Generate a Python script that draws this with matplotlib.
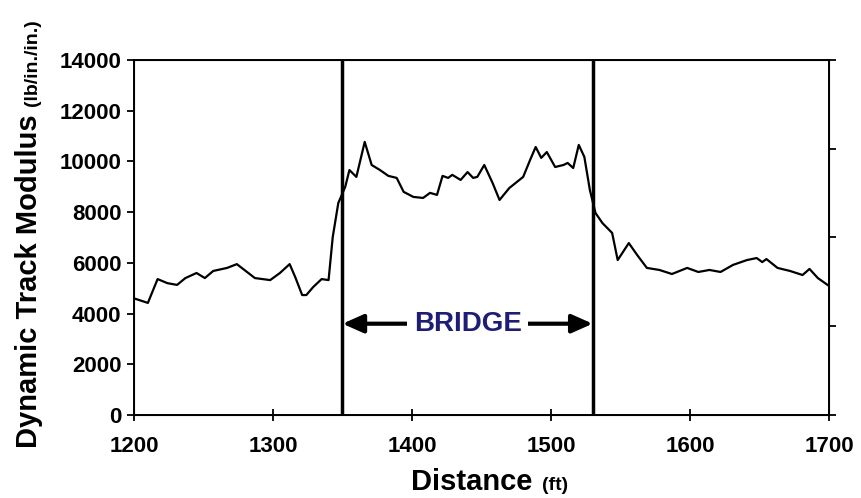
import matplotlib
matplotlib.use('Agg')
import matplotlib.pyplot as plt

plt.rcParams['font.family'] = ['Liberation Sans', 'DejaVu Sans']
plt.rcParams['font.weight'] = 'bold'

# distance (ft) and dynamic track modulus (lb/in./in.)
distance = [1200, 1210, 1217, 1224, 1231, 1237, 1245, 1251, 1257, 1267, 1274,
            1287, 1298, 1305, 1312, 1316, 1321, 1324, 1329, 1335, 1340, 1343,
            1347, 1352, 1355, 1360, 1366, 1371, 1377, 1383, 1389, 1394, 1401,
            1408, 1413, 1418, 1422, 1426, 1429, 1435, 1440, 1444, 1447, 1452,
            1458, 1463, 1470, 1480, 1485, 1489, 1493, 1497, 1503, 1509, 1512,
            1516, 1520, 1524, 1528, 1532, 1537, 1544, 1548, 1556, 1562, 1569,
            1578, 1587, 1598, 1606, 1614, 1622, 1631, 1641, 1648, 1652, 1655,
            1663, 1672, 1681, 1686, 1692, 1700]
modulus = [4600, 4420, 5360, 5200, 5130, 5400, 5600, 5400, 5680, 5800, 5950,
           5400, 5320, 5600, 5950, 5440, 4730, 4730, 5050, 5360, 5320, 7020,
           8360, 9000, 9660, 9390, 10770, 9860, 9660, 9430, 9350, 8800, 8600,
           8560, 8760, 8680, 9430, 9350, 9470, 9270, 9580, 9350, 9390, 9860,
           9150, 8480, 8950, 9390, 10060, 10570, 10140, 10370, 9780, 9860, 9940,
           9740, 10650, 10180, 8870, 7970, 7570, 7180, 6110, 6780, 6310, 5800,
           5720, 5560, 5800, 5640, 5720, 5640, 5920, 6110, 6190, 6030, 6150,
           5800, 5680, 5520, 5760, 5400, 5090]

bridge_start = 1350
bridge_end = 1530
bridge_y = 3600
x_ticks = [1200, 1300, 1400, 1500, 1600, 1700]
y_ticks = [0, 2000, 4000, 6000, 8000, 10000, 12000, 14000]

fig = plt.figure(figsize=(8.61, 4.98), dpi=100)
ax = fig.add_axes([0.1556, 0.1667, 0.8072, 0.7128])

ax.plot(distance, modulus, color='black', lw=1.6)

# bridge limits
ax.plot([bridge_start, bridge_start], [0, 14000], color='black', lw=2.5)
ax.plot([bridge_end, bridge_end], [0, 14000], color='black', lw=2.5)

mid = (bridge_start + bridge_end) / 2
arrow = dict(arrowstyle='-|>,head_length=0.9,head_width=0.4', color='black',
             lw=3, mutation_scale=14, shrinkA=0, shrinkB=0)
ax.annotate('', xy=(bridge_start, bridge_y), xytext=(mid, bridge_y), arrowprops=arrow)
ax.annotate('', xy=(bridge_end, bridge_y), xytext=(mid, bridge_y), arrowprops=arrow)
ax.text(mid, bridge_y, 'BRIDGE', color='#1c1c80', fontsize=20, fontweight='bold',
        ha='center', va='center',
        bbox=dict(facecolor='white', edgecolor='none', pad=5))

ax.set_xlim(1200, 1700)
ax.set_ylim(0, 14000)
ax.set_xticks(x_ticks)
ax.set_yticks(y_ticks)
ax.tick_params(axis='x', direction='inout', length=8, width=1.3, labelsize=16, pad=11)
ax.tick_params(axis='y', direction='out', length=5, width=1.3, labelsize=16, pad=4)
for s in ax.spines.values():
    s.set_linewidth(1.4)

# right hand axis, ticks only
ax2 = ax.twinx()
ax2.set_ylim(0, 4)
ax2.set_yticks([0, 1, 2, 3, 4])
ax2.set_yticklabels([])
ax2.tick_params(axis='y', direction='out', length=5, width=1.3)

# axis titles, units in smaller type
fig.text(532 / 861, 1 - 490 / 498, 'Distance', fontsize=21, fontweight='bold',
         ha='right', va='baseline')
fig.text(542 / 861, 1 - 490 / 498, '(ft)', fontsize=14, fontweight='bold',
         ha='left', va='baseline')
fig.text(43 / 861, 1 - 448 / 498, 'Dynamic Track Modulus', fontsize=21,
         fontweight='bold', rotation=90, ha='right', va='bottom')
fig.text(41 / 861, 1 - 106 / 498, '(lb/in./in.)', fontsize=14,
         fontweight='bold', rotation=90, ha='right', va='bottom')

fig.savefig('out.png', dpi=100)
